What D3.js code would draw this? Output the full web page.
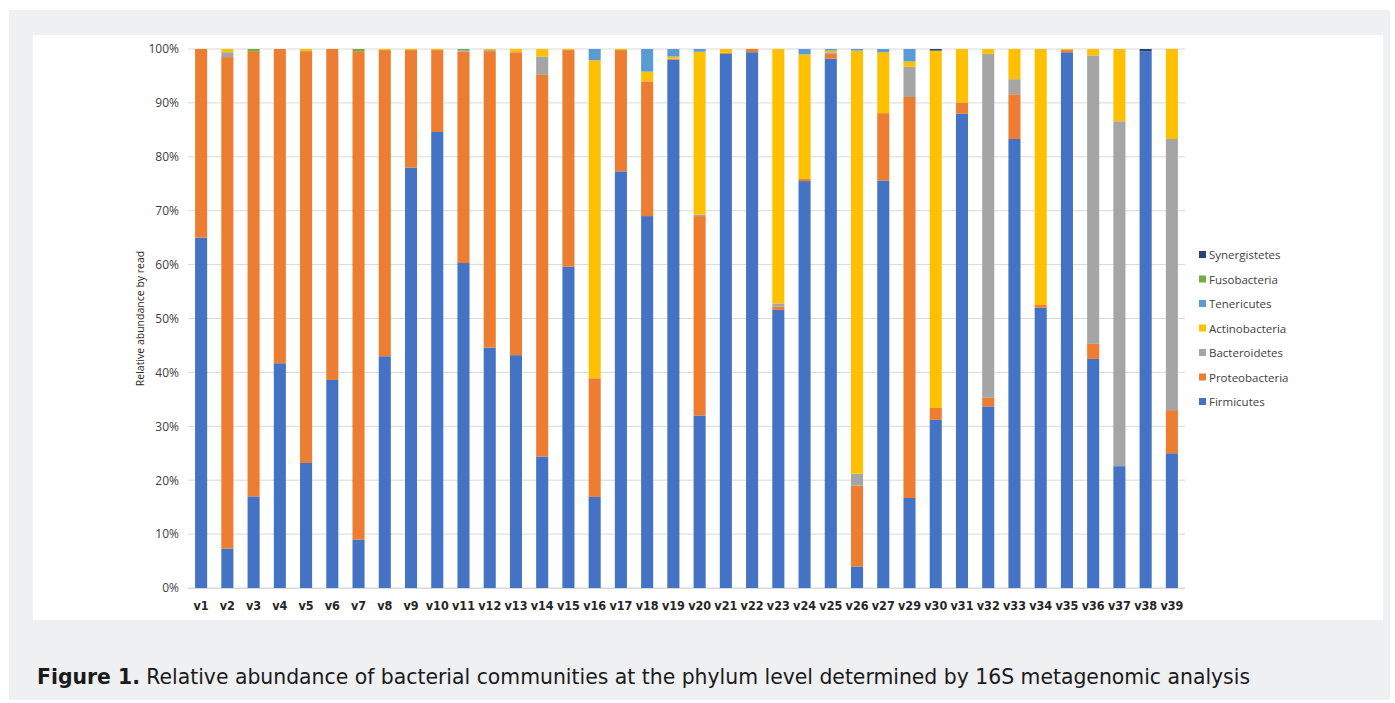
<!DOCTYPE html>
<html>
<head>
<meta charset="utf-8">
<script src="https://cdn.jsdelivr.net/npm/d3@7"></script>
<style>
  body { margin: 0; background: #fff; }
  svg text { font-family: "Liberation Sans Narrow", "DejaVu Sans Condensed", "Open Sans", sans-serif; }
</style>
</head>
<body>
<div id="chart"></div>
<script>
"use strict";

// samples along the x axis
var samples = ["v1","v2","v3","v4","v5","v6","v7","v8","v9","v10","v11","v12","v13","v14","v15",
  "v16","v17","v18","v19","v20","v21","v22","v23","v24","v25","v26","v27","v29","v30","v31",
  "v32","v33","v34","v35","v36","v37","v38","v39"];

// phyla, bottom of stack first
var phyla = ["Firmicutes","Proteobacteria","Bacteroidetes","Actinobacteria","Tenericutes","Fusobacteria","Synergistetes"];
var colors = ["#4472c4","#ed7d31","#a5a5a5","#ffc000","#5b9bd5","#70ad47","#264478"];

// percent of reads per sample, one array per phylum
var firmicutes     = [65,7.3,17,41.7,23.2,38.6,9,43,78,84.6,60.3,44.6,43.2,24.4,59.6,16.9,77.3,69,98,32,99.1,99.4,51.6,75.5,98.2,4,75.6,16.7,31.2,88,33.7,83.3,52,99.4,42.5,22.6,99.6,25];
var proteobacteria = [35,91.2,82.6,58.3,76.4,61.4,90.6,56.8,21.8,15.2,39.2,55,56.2,70.8,40.2,22,22.5,25,0.2,37,0.2,0.6,0.6,0.4,1.0,15,12.5,74.4,2.2,2,1.6,8.3,0.5,0.4,2.8,0,0,8];
var bacteroidetes  = [0,0.9,0,0,0,0,0,0,0,0,0.3,0.2,0,3.4,0,0,0,0,0,0.3,0,0,0.6,0,0.2,2.2,0,5.6,0,0,63.8,2.8,0,0,53.5,64,0,50.3];
var actinobacteria = [0,0.6,0,0,0.4,0,0,0.2,0.2,0.2,0,0.2,0.6,1.4,0.2,59,0.2,1.8,0.4,30.2,0.7,0,47.2,23.1,0.3,78.5,11.3,1.0,66.3,10,0.9,5.6,47.5,0.2,1.2,13.4,0,16.7];
var tenericutes    = [0,0,0,0,0,0,0,0,0,0,0,0,0,0,0,2.1,0,4.2,1.4,0.5,0,0,0,1.0,0.3,0.3,0.6,2.3,0,0,0,0,0,0,0,0,0,0];
var fusobacteria   = [0,0,0.4,0,0,0,0.4,0,0,0,0.2,0,0,0,0,0,0,0,0,0,0,0,0,0,0,0,0,0,0,0,0,0,0,0,0,0,0,0];
var synergistetes  = [0,0,0,0,0,0,0,0,0,0,0,0,0,0,0,0,0,0,0,0,0,0,0,0,0,0,0,0,0.3,0,0,0,0,0,0,0,0.4,0];

var yTicks = [0,10,20,30,40,50,60,70,80,90,100];

var series = [firmicutes, proteobacteria, bacteroidetes, actinobacteria, tenericutes, fusobacteria, synergistetes];
var rows = samples.map(function (s, i) {
  var r = { sample: s };
  phyla.forEach(function (p, k) { r[p] = series[k][i]; });
  return r;
});

var W = 1395, H = 703;
var svg = d3.select("#chart").append("svg").attr("width", W).attr("height", H);

// page background and white chart panel
svg.append("rect").attr("x", 9).attr("y", 10).attr("width", 1381).attr("height", 690).attr("fill", "#eff0f2");
svg.append("rect").attr("x", 33).attr("y", 35).attr("width", 1350).attr("height", 585).attr("fill", "#ffffff");

var plot = { left: 188, right: 1185, top: 49, bottom: 588 };

var x = d3.scaleBand().domain(samples).range([plot.left, plot.right]).paddingInner(0.54).paddingOuter(0.27);
var y = d3.scaleLinear().domain([0, 100]).range([plot.bottom, plot.top]);

// gridlines
svg.append("g").selectAll("line").data(yTicks).enter().append("line")
  .attr("x1", plot.left).attr("x2", plot.right)
  .attr("y1", function (d) { return y(d); }).attr("y2", function (d) { return y(d); })
  .attr("stroke", "#d9d9d9").attr("stroke-width", 1);

// y axis labels
var yAxis = d3.axisLeft(y).tickValues(yTicks).tickSize(0).tickPadding(9)
  .tickFormat(function (d) { return d + "%"; });
var gy = svg.append("g").attr("transform", "translate(" + plot.left + ",0)").call(yAxis);
gy.select(".domain").remove();
gy.selectAll("text").attr("font-size", 12).attr("fill", "#404040")
  .style("font-family", "'Open Sans', sans-serif");

svg.append("text")
  .attr("transform", "translate(144," + ((plot.top + plot.bottom) / 2) + ") rotate(-90)")
  .attr("text-anchor", "middle").attr("font-size", 10.5).attr("fill", "#262626")
  .style("font-family", "'Open Sans', sans-serif")
  .text("Relative abundance by read");

// stacked bars
var stacked = d3.stack().keys(phyla)(rows);
svg.append("g").selectAll("g").data(stacked).enter().append("g")
  .attr("fill", function (d, i) { return colors[i]; })
  .selectAll("rect").data(function (d) { return d; }).enter().append("rect")
  .attr("x", function (d) { return x(d.data.sample); })
  .attr("width", x.bandwidth())
  .attr("y", function (d) { return y(Math.min(100, d[1])); })
  .attr("height", function (d) { return Math.max(0, y(d[0]) - y(Math.min(100, d[1]))); });

// x axis line and labels
svg.append("line").attr("x1", plot.left).attr("x2", plot.right)
  .attr("y1", plot.bottom + 0.5).attr("y2", plot.bottom + 0.5).attr("stroke", "#d9d9d9");
var xAxis = d3.axisBottom(x).tickSize(0).tickPadding(13);
var gx = svg.append("g").attr("transform", "translate(0," + plot.bottom + ")").call(xAxis);
gx.select(".domain").remove();
gx.selectAll("text").attr("font-size", 12.5).attr("font-weight", "bold").attr("fill", "#262626");

// legend, top entry is last phylum
var legendOrder = phyla.slice().reverse();
var lg = svg.append("g").selectAll("g").data(legendOrder).enter().append("g")
  .attr("transform", function (d, i) { return "translate(1199," + (255 + i * 24.5) + ")"; });
lg.append("rect").attr("x", 0).attr("y", -4).attr("width", 7).attr("height", 7)
  .attr("fill", function (d) { return colors[phyla.indexOf(d)]; });
lg.append("text").attr("x", 10).attr("y", 4).attr("font-size", 11.5).attr("fill", "#404040")
  .style("font-family", "'Open Sans', sans-serif")
  .text(function (d) { return d; });

// caption
var cap = svg.append("text").attr("x", 37).attr("y", 684).attr("font-size", 22).attr("fill", "#1a1a1a")
  .attr("textLength", 1213).attr("lengthAdjust", "spacingAndGlyphs");
cap.append("tspan").attr("font-weight", "bold").text("Figure 1.");
cap.append("tspan").text(" Relative abundance of bacterial communities at the phylum level determined by 16S metagenomic analysis");
</script>
</body>
</html>
